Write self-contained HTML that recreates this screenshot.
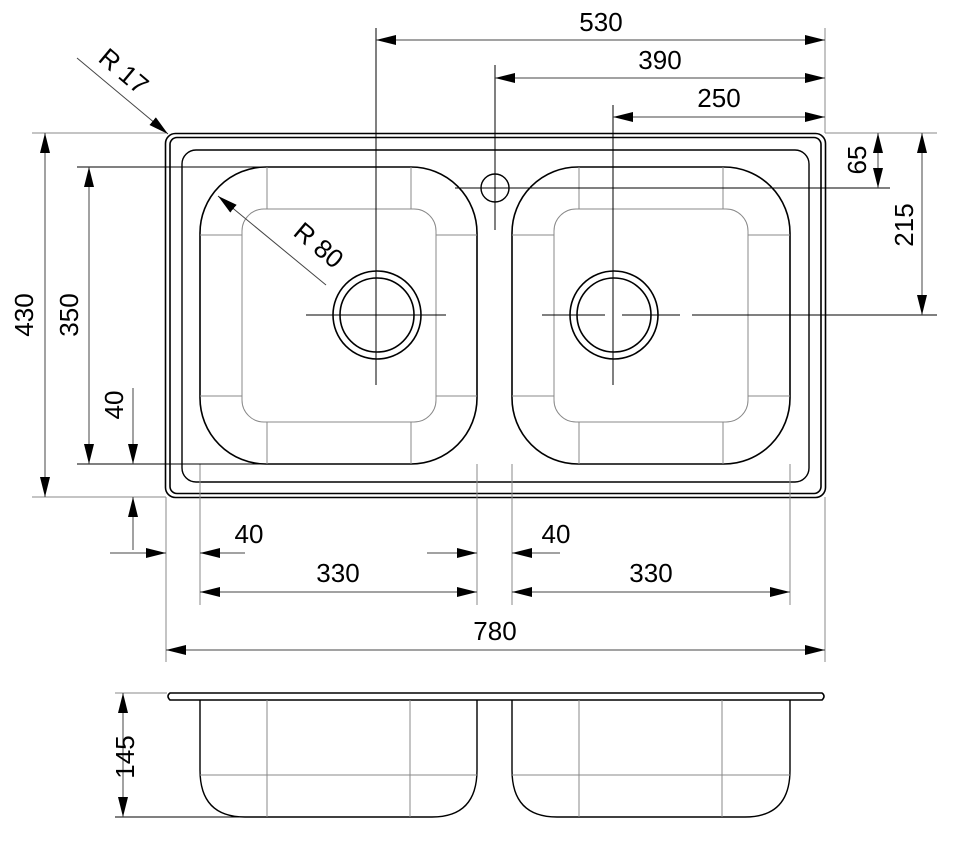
<!DOCTYPE html>
<html><head><meta charset="utf-8"><style>
html,body{margin:0;padding:0;background:#fff;}
svg{display:block;}
text{font-family:"Liberation Sans",Arial,sans-serif;font-size:26px;fill:#000;}
</style></head><body>
<svg width="957" height="848" viewBox="0 0 957 848" xmlns="http://www.w3.org/2000/svg">
<defs>
<marker id="a" viewBox="0 0 20 10" refX="20" refY="5" markerWidth="20" markerHeight="10" markerUnits="userSpaceOnUse" orient="auto-start-reverse"><path d="M0,0 L20,5 L0,10 z" fill="#000"/></marker>
</defs>
<g fill="none" stroke-linecap="butt">
<rect x="165.5" y="133.5" width="660" height="364" rx="10" stroke="#000" stroke-width="1.6"/>
<rect x="170" y="137.5" width="651" height="356" rx="7" stroke="#000" stroke-width="1.6"/>
<rect x="182" y="150" width="627" height="332" rx="14" stroke="#000" stroke-width="1.4"/>
<rect x="200" y="167" width="277" height="297" rx="66" stroke="#000" stroke-width="1.6"/>
<rect x="512" y="167" width="278" height="297" rx="66" stroke="#000" stroke-width="1.6"/>
<g stroke="#888" stroke-width="1">
<rect x="242" y="209" width="194" height="213" rx="22"/>
<path d="M267,167V209M411,167V209M267,422V464M411,422V464M200,235H242M436,235H477M200,396H242M436,396H477"/>
<rect x="554" y="209" width="194" height="213" rx="22"/>
<path d="M579,167V209M723,167V209M579,422V464M723,422V464M512,235H554M748,235H790M512,396H554M748,396H790"/>
</g>
<circle cx="377" cy="315" r="44" stroke="#000" stroke-width="1.6"/>
<circle cx="377" cy="315" r="37" stroke="#000" stroke-width="1.6"/>
<circle cx="614" cy="315" r="44" stroke="#000" stroke-width="1.6"/>
<circle cx="614" cy="315" r="37" stroke="#000" stroke-width="1.6"/>
<circle cx="495" cy="188" r="14" stroke="#000" stroke-width="1.4"/>
<g stroke="#000" stroke-width="1">
<path d="M376,28V385M306,315H446"/>
<path d="M613,105V385M542,315H605M622,315H680M692,315H937"/>
<path d="M495,65V230M455,188H890"/>
</g>
<g stroke="#888" stroke-width="1">
<path d="M825,28V133M825,497V662M166,497V662M200,464V605M477,464V605M512,464V605M790,464V605"/>
<path d="M825,133H937M32,133H166M32,497H166M115,693H167"/>
</g>
<g stroke="#000" stroke-width="1.1">
<path d="M77,167H265M77,464H265M115,817H280"/>
</g>
<g stroke="#444" stroke-width="1">
<path d="M376,40H825" marker-start="url(#a)" marker-end="url(#a)"/>
<path d="M495,78H825" marker-start="url(#a)" marker-end="url(#a)"/>
<path d="M613,117H825" marker-start="url(#a)" marker-end="url(#a)"/>
<path d="M878,133V188" marker-start="url(#a)" marker-end="url(#a)"/>
<path d="M922,133V315" marker-start="url(#a)" marker-end="url(#a)"/>
<path d="M45,133V497" marker-start="url(#a)" marker-end="url(#a)"/>
<path d="M89,167V464" marker-start="url(#a)" marker-end="url(#a)"/>
<path d="M133,388V464" marker-end="url(#a)"/>
<path d="M133,550V497" marker-end="url(#a)"/>
<path d="M110,553H166" marker-end="url(#a)"/>
<path d="M245,553H200" marker-end="url(#a)"/>
<path d="M427,553H477" marker-end="url(#a)"/>
<path d="M560,553H512" marker-end="url(#a)"/>
<path d="M200,592H477" marker-start="url(#a)" marker-end="url(#a)"/>
<path d="M512,592H790" marker-start="url(#a)" marker-end="url(#a)"/>
<path d="M166,650H825" marker-start="url(#a)" marker-end="url(#a)"/>
<path d="M123,693V817" marker-start="url(#a)" marker-end="url(#a)"/>
<path d="M77,58L168,134" marker-end="url(#a)"/>
<path d="M326,285L218,196" marker-end="url(#a)"/>
</g>
<path d="M170,693H822Q826,696 822,700H170Q166,696 170,693Z" stroke="#000" stroke-width="1.6"/>
<path d="M200,700V770Q200,817 245,817H432Q477,817 477,770V700" stroke="#000" stroke-width="1.4"/>
<path d="M512,700V770Q512,817 557,817H745Q790,817 790,770V700" stroke="#000" stroke-width="1.4"/>
<g stroke="#888" stroke-width="1">
<path d="M267,700V817M410,700V817M200,775H477M579,700V817M722,700V817M512,775H790"/>
</g>
</g>
<text x="601" y="31" text-anchor="middle">530</text>
<text x="660" y="69" text-anchor="middle">390</text>
<text x="719" y="107" text-anchor="middle">250</text>
<text transform="translate(866,160) rotate(-90)" text-anchor="middle">65</text>
<text transform="translate(913,225) rotate(-90)" text-anchor="middle">215</text>
<text transform="translate(33,315) rotate(-90)" text-anchor="middle">430</text>
<text transform="translate(78,315) rotate(-90)" text-anchor="middle">350</text>
<text transform="translate(123,405) rotate(-90)" text-anchor="middle">40</text>
<text transform="translate(134,757) rotate(-90)" text-anchor="middle">145</text>
<text x="249" y="543" text-anchor="middle">40</text>
<text x="556" y="543" text-anchor="middle">40</text>
<text x="338" y="582" text-anchor="middle">330</text>
<text x="651" y="582" text-anchor="middle">330</text>
<text x="495" y="640" text-anchor="middle">780</text>
<text transform="translate(118,78) rotate(40)" text-anchor="middle">R 17</text>
<text transform="translate(313,252) rotate(40)" text-anchor="middle">R 80</text>
</svg>
</body></html>
